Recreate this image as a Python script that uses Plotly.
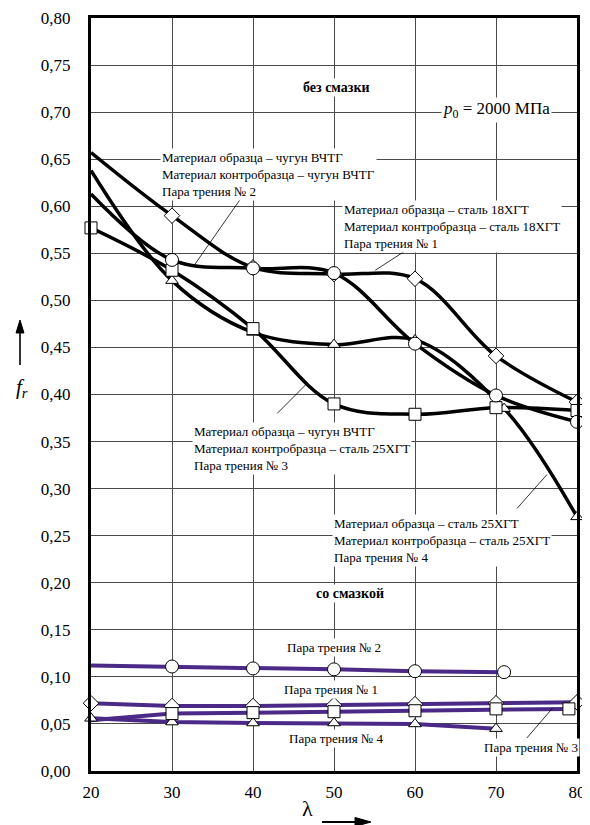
import plotly.graph_objects as go

# ---------------- data ----------------
lam = [20, 30, 40, 50, 60, 70, 80]
lam_p4 = [20, 30, 40, 50, 60, 71, 80]

# dry friction (без смазки)
dry_p1 = [0.657, 0.590, 0.535, 0.528, 0.523, 0.441, 0.392]   # diamonds, 18ХГТ/18ХГТ
dry_p2 = [0.613, 0.543, 0.534, 0.529, 0.454, 0.399, 0.371]   # circles, ВЧТГ/ВЧТГ
dry_p3 = [0.577, 0.532, 0.470, 0.390, 0.379, 0.386, 0.383]   # squares, ВЧТГ/25ХГТ
dry_p4 = [0.638, 0.521, 0.466, 0.453, 0.458, 0.385, 0.270]   # triangles, 25ХГТ/25ХГТ

# lubricated (со смазкой)
lub_x2 = [20, 30, 40, 50, 60, 71]
lub_p2 = [0.112, 0.111, 0.109, 0.108, 0.106, 0.105]
lub_p1 = [0.072, 0.069, 0.069, 0.070, 0.071, 0.072, 0.073]
lub_x3 = [20, 30, 40, 50, 60, 70, 79]
lub_p3 = [0.054, 0.061, 0.062, 0.063, 0.064, 0.066, 0.066]
lub_x4 = [20, 30, 40, 50, 60, 70]
lub_p4 = [0.056, 0.052, 0.051, 0.051, 0.050, 0.045]

y_ticks = [i * 0.05 for i in range(17)]
x_ticks = [20, 30, 40, 50, 60, 70, 80]

FONT = "Liberation Serif, Times New Roman, serif"
BLACK = "#000000"
PURPLE = "#4B2A87"

fig = go.Figure()

def curve(x, y, color, width, shape):
    fig.add_trace(go.Scatter(x=x, y=y, mode="lines",
                             line=dict(color=color, width=width, shape=shape, smoothing=1.0),
                             showlegend=False, hoverinfo="skip"))

def marks(x, y, symbol, size):
    fig.add_trace(go.Scatter(x=x, y=y, mode="markers",
                             marker=dict(symbol=symbol, size=size, color="white",
                                         line=dict(color=BLACK, width=1)),
                             showlegend=False, hoverinfo="skip", cliponaxis=False))

# dry curves
curve(lam, dry_p1, BLACK, 3.5, "spline")
curve(lam, dry_p2, BLACK, 3.5, "spline")
curve(lam, dry_p3, BLACK, 3.5, "spline")
curve(lam_p4, dry_p4, BLACK, 3.5, "spline")

# lubricated lines
curve(lub_x2, lub_p2, PURPLE, 4, "linear")
curve(lam, lub_p1, PURPLE, 4, "linear")
curve(lub_x3, lub_p3, PURPLE, 4, "linear")
curve(lub_x4, lub_p4, PURPLE, 4, "linear")

# markers (dry)
marks(lam_p4[1:], dry_p4[1:], "triangle-up", 11)
marks(lam[1:], dry_p1[1:], "diamond", 12)
marks(lam, dry_p3, "square", 12)
marks(lam[1:], dry_p2[1:], "circle", 13)
# markers (lubricated)
marks(lub_x4, lub_p4, "triangle-up", 11)
marks(lam, lub_p1, "diamond", 12)
marks(lub_x3[1:], lub_p3[1:], "square", 12)
marks(lub_x2[1:], lub_p2[1:], "circle", 13)

# leader lines
leaders = [
    ((38.4, 0.607), (32.8, 0.538)),
    ((59.4, 0.556), (55.1, 0.532)),
    ((43.0, 0.380), (46.7, 0.412)),
    ((72.6, 0.279), (76.3, 0.315)),
    ((73.8, 0.035), (77.0, 0.067)),
]
for (x0, y0), (x1, y1) in leaders:
    fig.add_shape(type="line", x0=x0, y0=y0, x1=x1, y1=y1, xref="x", yref="y",
                  line=dict(color=BLACK, width=0.8), layer="above")

def note(x, y, text, size=13, xanchor="left", bold=False):
    if bold:
        text = "<b>" + text + "</b>"
    fig.add_annotation(x=x, y=y, xref="x", yref="y", text=text, showarrow=False,
                       xanchor=xanchor, yanchor="middle", align="left",
                       bgcolor="white", borderpad=1,
                       font=dict(family=FONT, size=size, color=BLACK))

note(50.3, 0.726, "без смазки", size=14, xanchor="center", bold=True)
note(70.0, 0.702, "<i>p</i><sub>0</sub> = 2000 МПа", size=17, xanchor="center")
note(28.5, 0.634, "Материал образца – чугун ВЧТГ<br>Материал контробразца – чугун ВЧТГ<br>Пара трения № 2")
note(51.0, 0.578, "Материал образца – сталь 18ХГТ<br>Материал контробразца – сталь 18ХГТ<br>Пара трения № 1")
note(32.5, 0.343, "Материал образца – чугун ВЧТГ<br>Материал контробразца – сталь 25ХГТ<br>Пара трения № 3")
note(49.75, 0.245, "Материал образца – сталь 25ХГТ<br>Материал контробразца – сталь 25ХГТ<br>Пара трения № 4")
note(52.0, 0.189, "со смазкой", size=14, xanchor="center", bold=True)
note(50.0, 0.1307, "Пара трения № 2", xanchor="center")
note(49.6, 0.087, "Пара трения № 1", xanchor="center")
note(50.3, 0.035, "Пара трения № 4", xanchor="center")
note(74.3, 0.0255, "Пара трения № 3", xanchor="center")

# axis titles
fig.add_annotation(x=-0.158, y=0.509, xref="paper", yref="paper", showarrow=False,
                   text="<i>f</i><sub><i>r</i></sub>", font=dict(family=FONT, size=21, color=BLACK))
fig.add_annotation(x=0.4465, y=-0.069, xref="paper", yref="paper", showarrow=False,
                   text="λ", font=dict(family=FONT, size=22, color=BLACK))

# arrows next to the axis titles (paper coordinates)
fig.add_shape(type="line", xref="paper", yref="paper", x0=-0.1461, x1=-0.1461, y0=0.5392, y1=0.585,
              line=dict(color=BLACK, width=1.6))
fig.add_shape(type="path", xref="paper", yref="paper",
              path="M -0.1543 0.5817 L -0.1379 0.5817 L -0.1461 0.5989 Z",
              fillcolor=BLACK, line=dict(color=BLACK, width=1))
fig.add_shape(type="line", xref="paper", yref="paper", x0=0.4753, x1=0.545, y0=-0.0677, y1=-0.0677,
              line=dict(color=BLACK, width=2.2))
fig.add_shape(type="path", xref="paper", yref="paper",
              path="M 0.5432 -0.0617 L 0.5432 -0.0737 L 0.5761 -0.0677 Z",
              fillcolor=BLACK, line=dict(color=BLACK, width=1))

# page body has an 8px default margin, so the figure is sized to fit the window
fig.update_layout(
    template="none",
    width=582, height=817,
    margin=dict(l=83, r=13, t=10, b=54, autoexpand=False),
    paper_bgcolor="white", plot_bgcolor="white",
    separators=", ",
    font=dict(family=FONT, size=17, color=BLACK),
    showlegend=False,
)
fig.update_xaxes(range=[20, 80], tickvals=x_ticks, showgrid=True, gridcolor="#4a4a4a", gridwidth=1,
                 showline=True, linecolor=BLACK, linewidth=3, mirror=True, zeroline=False,
                 automargin=False, ticks="", ticklabelstandoff=4, tickfont=dict(family=FONT, size=17))
fig.update_yaxes(range=[0, 0.8], tickvals=y_ticks, tickformat=".2f", showgrid=True,
                 gridcolor="#4a4a4a", gridwidth=1, automargin=False,
                 showline=True, linecolor=BLACK, linewidth=3, mirror=True, zeroline=False,
                 ticks="", ticklabelstandoff=14, tickfont=dict(family=FONT, size=17))

fig.write_html("out.html")
